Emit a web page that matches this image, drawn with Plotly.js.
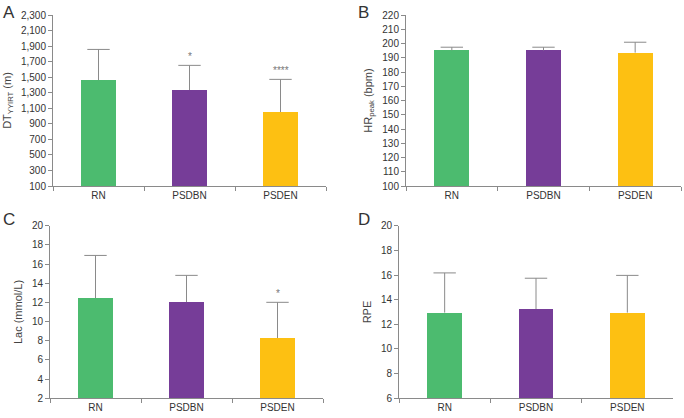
<!DOCTYPE html>
<html>
<head>
<meta charset="utf-8">
<script src="https://cdn.plot.ly/plotly-3.0.1.min.js"></script>
<style>html,body{margin:0;padding:0;background:#fff;}#chart{width:684px;height:418px;}</style>
</head>
<body>
<div id="chart"></div>
<script>
const categories = ["RN", "PSDBN", "PSDEN"];
const colors = ["#4cbb6f", "#763d98", "#fdc012"];

const dtMean = [1462, 1335, 1052];
const dtSD = [395, 317, 420];
const dtSig = ["", "*", "****"];

const hrMean = [195.2, 195.2, 193.6];
const hrSD = [2.2, 2.2, 7.3];

const lacMean = [12.46, 12.04, 8.29];
const lacSD = [4.44, 2.78, 3.72];
const lacSig = ["", "", "*"];

const rpeMean = [12.95, 13.24, 12.95];
const rpeSD = [3.22, 2.5, 3.02];

const FONT = "Liberation Sans, Arial, sans-serif";
const ERR = "#8a8a8a";

function barTraces(mean, sd, xa, ya) {
  const top = mean.map((m, i) => m + sd[i]);
  return [
    {
      type: "bar",
      x: categories,
      y: mean,
      xaxis: xa,
      yaxis: ya,
      width: 0.38,
      marker: { color: colors, line: { width: 0 } },
      showlegend: false,
      hoverinfo: "skip"
    },
    {
      // upper error whisker: line from mean up to mean+SD with a cap on top
      type: "scatter",
      mode: "markers",
      x: categories,
      y: top,
      xaxis: xa,
      yaxis: ya,
      marker: { symbol: "line-ew", size: 16, color: ERR, line: { color: ERR, width: 1 } },
      error_y: {
        type: "data",
        symmetric: false,
        array: sd.map(() => 0),
        arrayminus: sd,
        color: ERR,
        thickness: 1,
        width: 0
      },
      showlegend: false,
      hoverinfo: "skip"
    }
  ];
}

const data = [].concat(
  barTraces(dtMean, dtSD, "x", "y"),
  barTraces(hrMean, hrSD, "x2", "y2"),
  barTraces(lacMean, lacSD, "x3", "y3"),
  barTraces(rpeMean, rpeSD, "x4", "y4")
);

function xAxis(domain, anchor) {
  return {
    domain: domain,
    anchor: anchor,
    type: "category",
    range: [-0.5, 2.5],
    showline: true,
    linecolor: "#8a8a8a",
    linewidth: 1,
    ticks: "outside",
    tickson: "boundaries",
    ticklen: 4,
    tickcolor: "#8a8a8a",
    showgrid: false,
    zeroline: false,
    tickfont: { family: FONT, size: 10, color: "#333" }
  };
}

function yAxis(domain, anchor, range, dtick, title, fmt) {
  return {
    domain: domain,
    anchor: anchor,
    range: range,
    tick0: range[0],
    dtick: dtick,
    tickformat: fmt || "",
    showline: true,
    linecolor: "#8a8a8a",
    linewidth: 1,
    ticks: "outside",
    ticklen: 4,
    tickcolor: "#8a8a8a",
    showgrid: false,
    zeroline: false,
    tickfont: { family: FONT, size: 10, color: "#333" },
    title: { text: title, font: { family: FONT, size: 11, color: "#444" }, standoff: 7 }
  };
}

const yTop = [1 - 186 / 418, 1 - 15 / 418];
const yBot = [1 - 398.3 / 418, 1 - 225.7 / 418];

function sigAnn(xa, ya, mean, sd, sig) {
  return categories.map((c, i) => ({
    xref: xa, yref: ya, x: c, y: mean[i] + sd[i],
    text: sig[i], showarrow: false, yanchor: "bottom", yshift: 1,
    font: { family: FONT, size: 10, color: "#777" }
  })).filter(a => a.text);
}

const letterFont = { family: FONT, size: 17, color: "#333" };
const annotations = [
  { xref: "paper", yref: "paper", x: 1 / 684, y: 1 - 1 / 418, xanchor: "left", yanchor: "top", text: "A", showarrow: false, font: letterFont },
  { xref: "paper", yref: "paper", x: 356 / 684, y: 1 - 1 / 418, xanchor: "left", yanchor: "top", text: "B", showarrow: false, font: letterFont },
  { xref: "paper", yref: "paper", x: 1 / 684, y: 1 - 208 / 418, xanchor: "left", yanchor: "top", text: "C", showarrow: false, font: letterFont },
  { xref: "paper", yref: "paper", x: 356 / 684, y: 1 - 208 / 418, xanchor: "left", yanchor: "top", text: "D", showarrow: false, font: letterFont }
].concat(sigAnn("x", "y", dtMean, dtSD, dtSig), sigAnn("x3", "y3", lacMean, lacSD, lacSig));

const layout = {
  width: 684,
  height: 418,
  margin: { l: 0, r: 0, t: 0, b: 0 },
  paper_bgcolor: "#fff",
  plot_bgcolor: "#fff",
  bargap: 0,
  xaxis: xAxis([53 / 684, 326 / 684], "y"),
  yaxis: yAxis(yTop, "x", [100, 2300], 200, "DT<sub>YYIRT</sub> (m)", ",d"),
  xaxis2: xAxis([406 / 684, 681 / 684], "y2"),
  yaxis2: yAxis(yTop, "x2", [100, 220], 10, "HR<sub>peak</sub> (bpm)"),
  xaxis3: xAxis([50 / 684, 323 / 684], "y3"),
  yaxis3: yAxis(yBot, "x3", [2, 20], 2, "Lac (mmol/L)"),
  xaxis4: xAxis([399 / 684, 673 / 684], "y4"),
  yaxis4: yAxis(yBot, "x4", [6, 20], 2, "RPE"),
  annotations: annotations
};

Plotly.newPlot("chart", data, layout, { staticPlot: true, displayModeBar: false });
</script>
</body>
</html>
